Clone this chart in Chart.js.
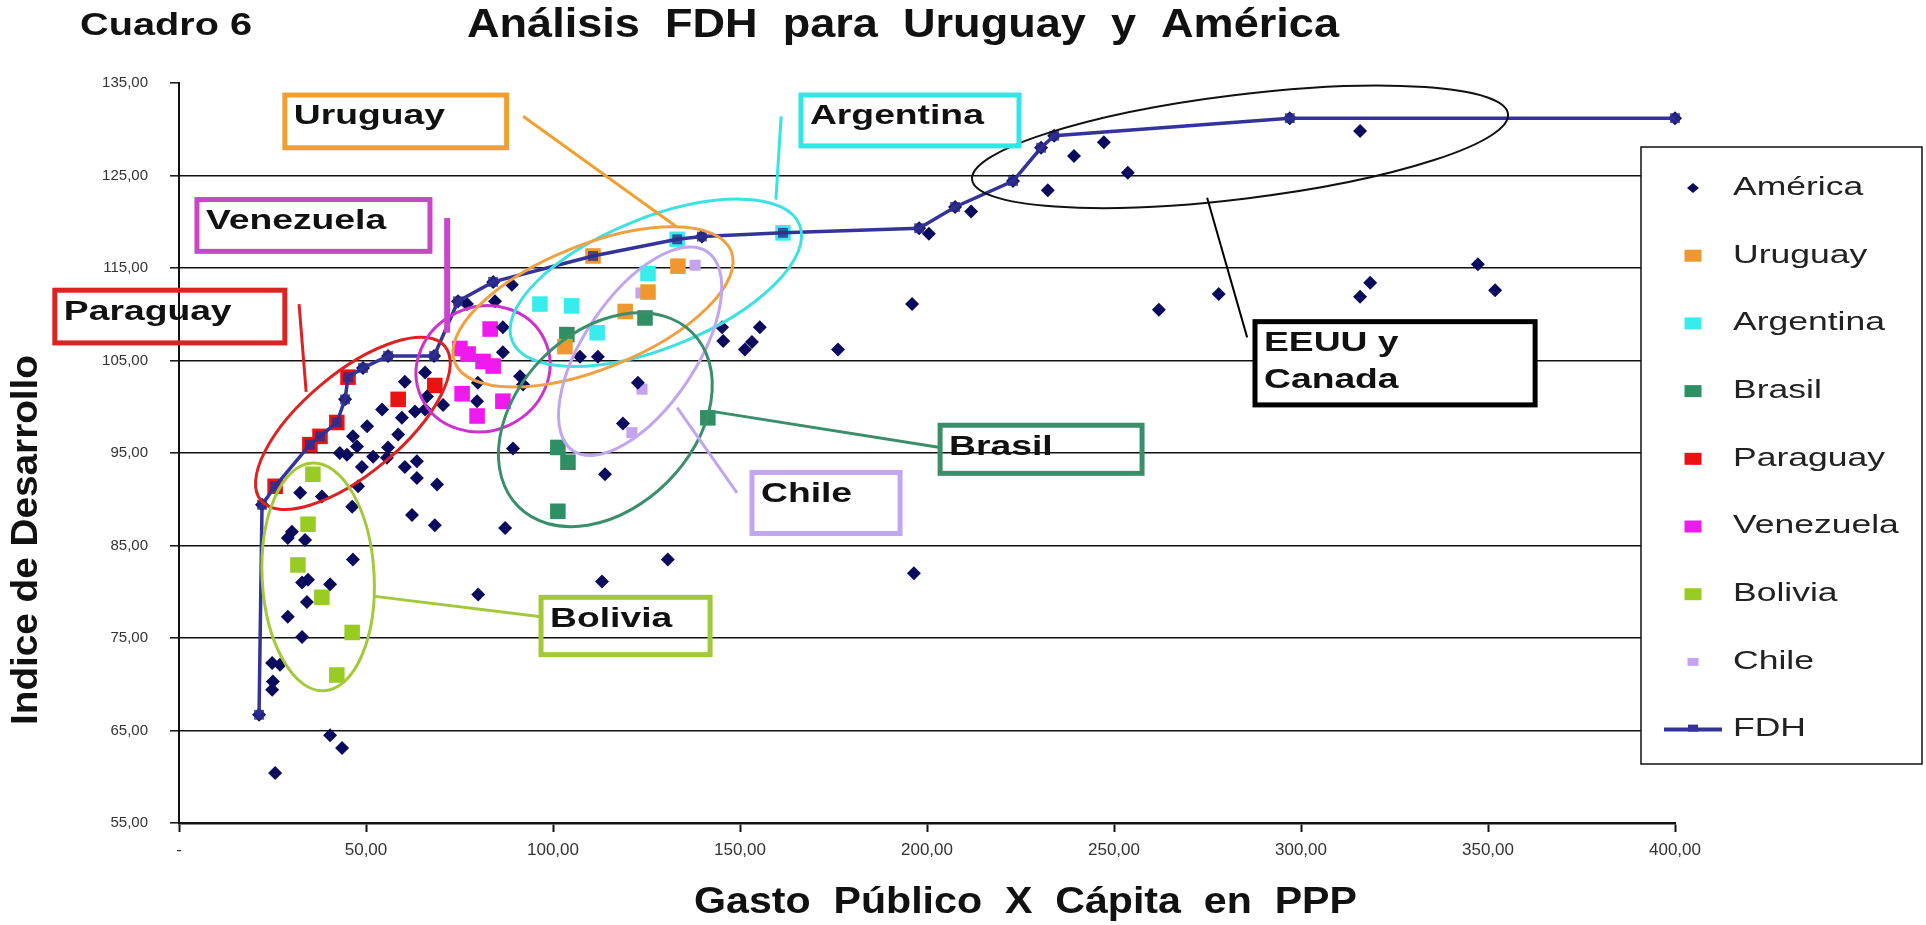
<!DOCTYPE html>
<html lang="es">
<head>
<meta charset="utf-8">
<title>Cuadro 6 - Análisis FDH para Uruguay y América</title>
<script src="https://cdn.jsdelivr.net/npm/chart.js@4.4.1/dist/chart.umd.min.js"></script>
<style>
  body { margin: 0; background: #fff; }
  canvas { display: block; }
</style>
</head>
<body>
<canvas id="myChart" width="1926" height="925"></canvas>
<script>
// valores: [gasto publico x capita PPP, indice de desarrollo]
const america = [
  [21.4,66.7],[22.2,89.4],[30.2,86.5],[29.1,85.8],[33.7,85.6],[46.5,83.5],[32.9,81.0],[34.5,81.3],
  [40.4,80.8],[34.2,78.9],[29.1,77.3],[32.9,75.1],[24.9,72.3],[27.0,72.1],[25.1,70.3],[24.9,69.4],
  [40.4,64.5],[43.6,63.1],[25.7,60.4],[62.3,88.3],[46.3,89.2],
  [60.4,102.7],[54.3,99.7],[59.6,98.8],[63.1,99.5],[50.3,97.9],[46.5,96.8],[58.6,97.0],[47.6,95.7],
  [43.0,95.0],[44.9,94.8],[51.9,94.6],[55.9,95.6],[55.6,94.5],[48.9,93.5],[60.4,93.5],[63.6,94.1],
  [63.6,92.3],[69.0,91.6],[47.9,91.4],[32.4,90.7],[38.2,90.3],[68.4,87.2],[65.8,99.7],[65.8,103.7],
  [66.3,101.1],[70.6,100.2],[79.9,102.6],[79.7,100.6],
  [44.4,100.8],[49.2,104.2],[55.9,105.5],[68.2,105.5],[74.6,111.4],[84.0,113.5],
  [86.6,108.6],[86.6,105.9],[91.2,103.3],[92.0,102.4],[77.0,111.1],[89.0,113.2],[84.5,111.4],[89.3,95.5],
  [107.2,105.4],[112.0,105.4],[122.7,102.6],[118.7,98.2],[113.9,92.7],[87.2,86.9],[130.7,83.5],
  [113.1,81.1],[80.0,79.7],
  [145.5,107.1],[145.2,108.6],[155.3,108.6],[151.3,106.2],[153.2,107.0],[176.2,106.2],[139.8,118.4],
  [196.0,111.1],[196.5,82.0],[197.9,119.3],[200.5,118.7],[207.5,121.6],[211.8,121.1],[223.0,124.4],
  [230.5,128.0],[232.3,123.4],[234.0,129.3],[239.3,127.1],[247.3,128.6],[253.7,125.3],[262.0,110.5],
  [278.0,112.2],[297.0,131.2],[315.8,129.8],[315.8,111.9],[318.5,113.4],[347.3,115.4],[351.9,112.6],
  [400.0,131.2]
];
const uruguay   = [[103.2,106.5],[110.7,116.3],[119.3,110.3],[125.4,112.4],[133.4,115.2]];
const argentina = [[96.5,111.1],[105.0,110.9],[111.8,108.0],[125.4,114.4],[133.2,118.1],[161.5,118.8]];
const brasil    = [[101.3,95.6],[104.0,94.0],[101.3,88.7],[103.7,107.8],[124.6,109.6],[141.4,98.8]];
const paraguay  = [[25.7,91.4],[35.0,95.9],[37.7,96.8],[42.2,98.3],[45.2,103.2],[58.6,100.8],[68.4,102.3]];
const venezuela = [[75.1,106.3],[77.3,105.7],[81.3,104.9],[84.0,104.4],[83.2,108.4],[75.7,101.4],[79.7,99.0],[86.6,100.6]];
const bolivia   = [[35.8,92.7],[34.5,87.3],[31.8,82.9],[38.2,79.4],[46.3,75.6],[42.2,71.0]];
const chile     = [[138.0,115.3],[123.5,112.3],[123.8,101.9],[121.1,97.2]];
const fdh = [
  [21.4,66.7],[22.2,89.4],[25.7,91.4],[35.0,95.9],[37.7,96.8],[42.2,98.3],[44.4,100.8],[45.2,103.2],
  [49.2,104.2],[55.9,105.5],[68.2,105.5],[74.6,111.4],[84.0,113.5],[110.7,116.3],[133.2,118.1],
  [139.8,118.4],[161.5,118.8],[197.9,119.3],[207.5,121.6],[223.0,124.4],[230.5,128.0],[234.0,129.3],
  [297.0,131.2],[400.0,131.2]
];
const yTicks = { min: 55, max: 135, step: 10 };
const xTicks = { min: 0, max: 400, step: 50 };

// anotaciones (elipses y recuadros) en unidades de los ejes, radios en px
const ellipses = [
  { color: '#dd2222', x: 46.5,  y: 98.2,  rx: 120, ry: 50,  rot: -40 },
  { color: '#a3c93a', x: 37.2,  y: 81.6,  rx: 56,  ry: 114, rot: -3 },
  { color: '#cc33cc', x: 81.3,  y: 104.1, rx: 68,  ry: 62,  rot: -25 },
  { color: '#3fe0e0', x: 127.5, y: 113.4, rx: 155, ry: 65,  rot: -22 },
  { color: '#f0a040', x: 110.7, y: 110.8, rx: 149, ry: 62,  rot: -22 },
  { color: '#c0a6ee', x: 123.3, y: 106.0, rx: 120, ry: 56,  rot: -56 },
  { color: '#3a8f6a', x: 114.0, y: 98.6,  rx: 123, ry: 88,  rot: -45 },
  { color: '#111111', x: 283.7, y: 128.1, rx: 270, ry: 52,  rot: -7, width: 2 }
];
const callouts = [
  { text: ['Uruguay'],   color: '#f0a030', box: [28.3, 133.7, 87.6, 128.0],   line: [92.0, 131.4, 133.2, 119.4], lw: 3 },
  { text: ['Argentina'], color: '#33e6e6', box: [166.3, 133.7, 224.6, 128.2], line: [161.0, 131.4, 159.6, 122.4], lw: 3 },
  { text: ['Venezuela'], color: '#cc44cc', box: [4.8, 122.4, 67.1, 116.8],    line: [71.7, 120.4, 71.7, 108.0], lw: 6 },
  { text: ['Paraguay'],  color: '#dd2222', box: [-33.2, 112.6, 28.3, 106.9],  line: [32.1, 111.1, 34.0, 101.6], lw: 3 },
  { text: ['Brasil'],    color: '#3a8f6a', box: [203.5, 98.0, 257.5, 92.8],   line: [142.5, 99.5, 203.5, 95.6], lw: 3 },
  { text: ['Chile'],     color: '#c0a6ee', box: [153.2, 92.9, 192.8, 86.3],   line: [133.2, 99.9, 149.2, 90.7], lw: 3 },
  { text: ['Bolivia'],   color: '#a3c93a', box: [96.8, 79.4, 142.0, 73.2],    line: [52.4, 79.5, 96.8, 77.3], lw: 3 },
  { text: ['EEUU y', 'Canada'], color: '#000000', box: [287.7, 109.2, 362.6, 100.2], line: [274.9, 122.6, 285.6, 107.5], lw: 2, fill: '#fff' }
];

const FONT = "'Liberation Sans', Arial, sans-serif";
const toXY = arr => arr.map(p => ({ x: p[0], y: p[1] }));
const fmt = v => v === 0 ? '-' : v.toFixed(2).replace('.', ',');

function stretchText(ctx, text, x, y, font, o) {
  ctx.save();
  ctx.font = font;
  ctx.fillStyle = o.color || '#000';
  ctx.textBaseline = 'middle';
  ctx.textAlign = 'left';
  const w = ctx.measureText(text).width;
  const k = o.width ? o.width / w : (o.sx || 1);
  ctx.translate(x, y);
  if (o.rotate) ctx.rotate(o.rotate);
  ctx.scale(k, o.sy || 1);
  ctx.fillText(text, o.center ? -w / 2 : 0, 0);
  ctx.restore();
}

const calloutPlugin = {
  id: 'callouts',
  afterDatasetsDraw(chart) {
    const ctx = chart.ctx;
    const px = v => chart.scales.x.getPixelForValue(v);
    const py = v => chart.scales.y.getPixelForValue(v);
    ctx.save();
    ellipses.forEach(e => {
      ctx.beginPath();
      ctx.ellipse(px(e.x), py(e.y), e.rx, e.ry, e.rot * Math.PI / 180, 0, Math.PI * 2);
      ctx.strokeStyle = e.color;
      ctx.lineWidth = e.width || 3;
      ctx.stroke();
    });
    callouts.forEach(c => {
      ctx.beginPath();
      ctx.moveTo(px(c.line[0]), py(c.line[1]));
      ctx.lineTo(px(c.line[2]), py(c.line[3]));
      ctx.strokeStyle = c.color;
      ctx.lineWidth = c.lw;
      ctx.stroke();
      const l = px(c.box[0]), t = py(c.box[1]), r = px(c.box[2]), b = py(c.box[3]);
      if (c.fill) { ctx.fillStyle = c.fill; ctx.fillRect(l, t, r - l, b - t); }
      ctx.lineWidth = 5;
      ctx.strokeRect(l, t, r - l, b - t);
      c.text.forEach((s, i) => {
        stretchText(ctx, s, l + 9, t + 22 + i * 37, 'bold 27px ' + FONT, { sx: 1.38, color: '#111' });
      });
    });
    ctx.restore();
  }
};

const framePlugin = {
  id: 'frame',
  afterDraw(chart) {
    const ctx = chart.ctx;
    // titulos
    stretchText(ctx, 'Cuadro 6', 80, 26, 'bold 31px ' + FONT, { width: 172, color: '#111' });
    stretchText(ctx, 'Análisis  FDH  para  Uruguay  y  América', 467, 26, 'bold 40px ' + FONT, { width: 872, color: '#111' });
    stretchText(ctx, 'Gasto  Público  X  Cápita  en  PPP', 694, 903, 'bold 36px ' + FONT, { width: 663, color: '#111' });
    stretchText(ctx, 'Indice de Desarrollo', 27, 540, 'bold 32px ' + FONT, { width: 370, sy: 1.15, center: true, rotate: -Math.PI / 2, color: '#111' });

    // leyenda
    const L = 1641, T = 147, R = 1922, B = 764;
    ctx.save();
    ctx.fillStyle = '#fff';
    ctx.fillRect(L, T, R - L, B - T);
    ctx.strokeStyle = '#111';
    ctx.lineWidth = 1.5;
    ctx.strokeRect(L, T, R - L, B - T);
    chart.data.datasets.forEach((ds, i) => {
      const y = 188 + i * 67.7, mx = 1693;
      ctx.fillStyle = ds.backgroundColor;
      if (ds.showLine) {
        ctx.strokeStyle = ds.borderColor;
        ctx.lineWidth = 4;
        ctx.beginPath(); ctx.moveTo(1664, y); ctx.lineTo(1722, y); ctx.stroke();
        ctx.fillStyle = ds.borderColor;
        ctx.fillRect(mx - 5, y - 5, 10, 7);
      } else if (ds.pointStyle === 'rectRot') {
        ctx.beginPath();
        ctx.moveTo(mx, y - 5); ctx.lineTo(mx + 6, y); ctx.lineTo(mx, y + 5); ctx.lineTo(mx - 6, y);
        ctx.closePath(); ctx.fill();
      } else {
        const w = ds.pointRadius > 9 ? 17 : 11, h = ds.pointRadius > 9 ? 12 : 8;
        ctx.fillRect(mx - w / 2, y - h / 2, w, h);
      }
      stretchText(ctx, ds.label, 1733, y, '25px ' + FONT, { sx: 1.42, color: '#222' });
    });
    ctx.restore();
  }
};

const square = (label, arr, color, r) => ({
  label: label, data: toXY(arr), backgroundColor: color, borderColor: color,
  pointStyle: 'rect', pointRadius: r, pointBorderWidth: 0, order: 2, clip: false
});

const data = {
  datasets: [
    { label: 'América', data: toXY(america), backgroundColor: '#0b0b5e', borderColor: '#0b0b5e',
      pointStyle: 'rectRot', pointRadius: 7, pointBorderWidth: 0, order: 1, clip: false },
    square('Uruguay', uruguay, '#f09830', 11),
    square('Argentina', argentina, '#38ecec', 11),
    square('Brasil', brasil, '#2f8f64', 11),
    square('Paraguay', paraguay, '#ee1111', 11),
    square('Venezuela', venezuela, '#ee1aee', 11),
    square('Bolivia', bolivia, '#99cc22', 11),
    square('Chile', chile, '#c4a4f0', 7.8),
    { label: 'FDH', data: toXY(fdh), showLine: true, borderColor: '#333399', borderWidth: 3.5,
      backgroundColor: '#333399', pointBackgroundColor: 'rgba(45,45,140,0.8)', pointStyle: 'rect',
      pointRadius: 7, pointBorderWidth: 0, tension: 0, order: 0, clip: false }
  ]
};

const config = {
  type: 'scatter',
  data: data,
  options: {
    responsive: false,
    animation: false,
    devicePixelRatio: 1,
    events: [],
    layout: { padding: { top: 83, right: 251, left: 0, bottom: 0 } },
    plugins: { legend: { display: false }, tooltip: { enabled: false } },
    scales: {
      x: {
        type: 'linear', min: xTicks.min, max: xTicks.max,
        afterFit: s => { s.height = 102; },
        ticks: { stepSize: xTicks.step, callback: fmt, padding: 8, color: '#333', font: { family: FONT, size: 17 } },
        grid: { drawOnChartArea: false, drawTicks: true, tickLength: 9, tickColor: '#111', tickWidth: 2 },
        border: { color: '#111', width: 2.5 }
      },
      y: {
        type: 'linear', min: yTicks.min, max: yTicks.max,
        afterFit: s => { s.width = 179; },
        ticks: { stepSize: yTicks.step, callback: fmt, padding: 22, color: '#333', font: { family: FONT, size: 15 } },
        grid: {
          color: c => (c.tick && (c.tick.value === yTicks.max || c.tick.value === yTicks.min)) ? 'rgba(0,0,0,0)' : '#111',
          lineWidth: 1.6, drawTicks: true, tickLength: 9, tickColor: '#111', tickWidth: 1.5
        },
        border: { color: '#111', width: 2 }
      }
    }
  },
  plugins: [calloutPlugin, framePlugin]
};

var myChart = new Chart(document.getElementById('myChart'), config);
</script>
</body>
</html>
